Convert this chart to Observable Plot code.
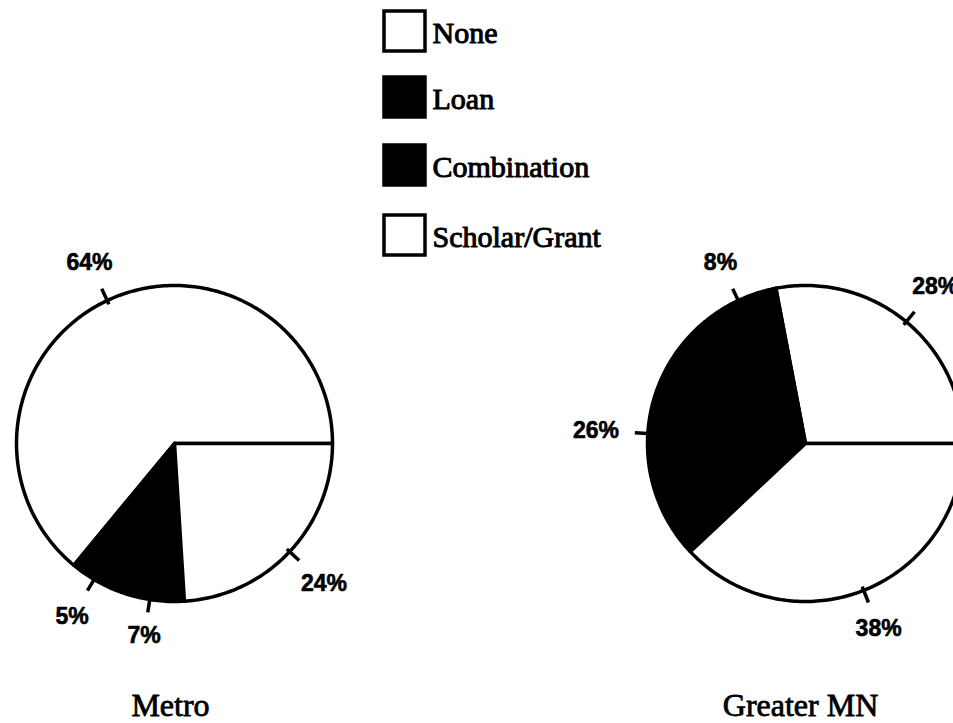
<!DOCTYPE html>
<html>
<head>
<meta charset="utf-8">
<script src="https://cdn.jsdelivr.net/npm/d3@7"></script>
<script src="https://cdn.jsdelivr.net/npm/@observablehq/plot@0.6"></script>
<style>
  html, body { margin: 0; padding: 0; background: #fff; overflow: hidden; }
  #chart svg { display: block; }
</style>
</head>
<body>
<div id="chart"></div>
<script>
// ---- data ----
const categories = ["None", "Loan", "Combination", "Scholar/Grant"];
const categoryFills = ["white", "black", "black", "white"];
const regions = ["Metro", "Greater MN"];
const metroValues = [64, 5, 7, 24];
const greaterMNValues = [28, 8, 26, 38];

// ---- layout ----
const W = 953, H = 723;
const R = 158;
const centers = [[174, 443], [805, 443]];
const titleX = [170, 800];

const seriesValues = [metroValues, greaterMNValues];
const slicePts = [];
const ticks = [];
const labels = [];
seriesValues.forEach((values, ri) => {
  const [cx, cy] = centers[ri];
  const total = d3.sum(values);
  let a0 = 0;
  values.forEach((v, i) => {
    const a1 = a0 + (v / total) * 2 * Math.PI;
    const key = regions[ri] + "|" + categories[i];
    const fill = categoryFills[i];
    slicePts.push({key, fill, x: cx, y: cy});
    const n = Math.max(2, Math.ceil((a1 - a0) * 180 / Math.PI));
    for (let k = 0; k <= n; k++) {
      const t = a0 + (a1 - a0) * k / n;
      slicePts.push({key, fill, x: cx + R * Math.cos(t), y: cy - R * Math.sin(t)});
    }
    slicePts.push({key, fill, x: cx, y: cy});
    const m = (a0 + a1) / 2;
    const c = Math.cos(m), s = Math.sin(m);
    ticks.push({x1: cx + (R - 4) * c, y1: cy - (R - 4) * s, x2: cx + (R + 13) * c, y2: cy - (R + 13) * s});
    const lr = R + 34 + 18 * Math.abs(c);
    labels.push({x: cx + lr * c, y: cy - lr * s, text: v + "%"});
    a0 = a1;
  });
});

const legend = categories.map((c, i) => ({cat: c, fill: categoryFills[i], i}));
const boxTop = [11, 77, 145, 215];
const titles = regions.map((r, i) => ({text: r, x: titleX[i], y: 705}));

const chart = Plot.plot({
  width: W,
  height: H,
  margin: 0,
  x: {domain: [0, W], range: [0, W], axis: null},
  y: {domain: [0, H], range: [0, H], axis: null},
  color: {type: "identity"},
  marks: [
    Plot.line(slicePts, {
      x: "x", y: "y", z: "key", fill: "fill",
      stroke: "black", strokeWidth: 3.5, strokeLinejoin: "round", curve: "linear"
    }),
    Plot.link(ticks, {x1: "x1", y1: "y1", x2: "x2", y2: "y2", stroke: "black", strokeWidth: 3.5}),
    Plot.text(labels, {
      x: "x", y: "y", text: "text", fontSize: 23, fontWeight: "bold",
      fontFamily: "Liberation Sans", fill: "black", stroke: "black", strokeWidth: 0.6
    }),
    Plot.rect(legend, {
      x1: () => 384, x2: () => 425,
      y1: d => boxTop[d.i], y2: d => boxTop[d.i] + 40,
      fill: "fill", stroke: "black", strokeWidth: 3.5
    }),
    Plot.text(legend, {
      x: () => 432, y: d => boxTop[d.i] + 22, text: "cat",
      textAnchor: "start", fontSize: 30, fontFamily: "Liberation Serif",
      fill: "black", stroke: "black", strokeWidth: 1
    }),
    Plot.text(titles, {
      x: "x", y: "y", text: "text", fontSize: 32, fontFamily: "Liberation Serif",
      fill: "black", stroke: "black", strokeWidth: 0.8
    })
  ]
});
document.getElementById("chart").appendChild(chart);
</script>
</body>
</html>
